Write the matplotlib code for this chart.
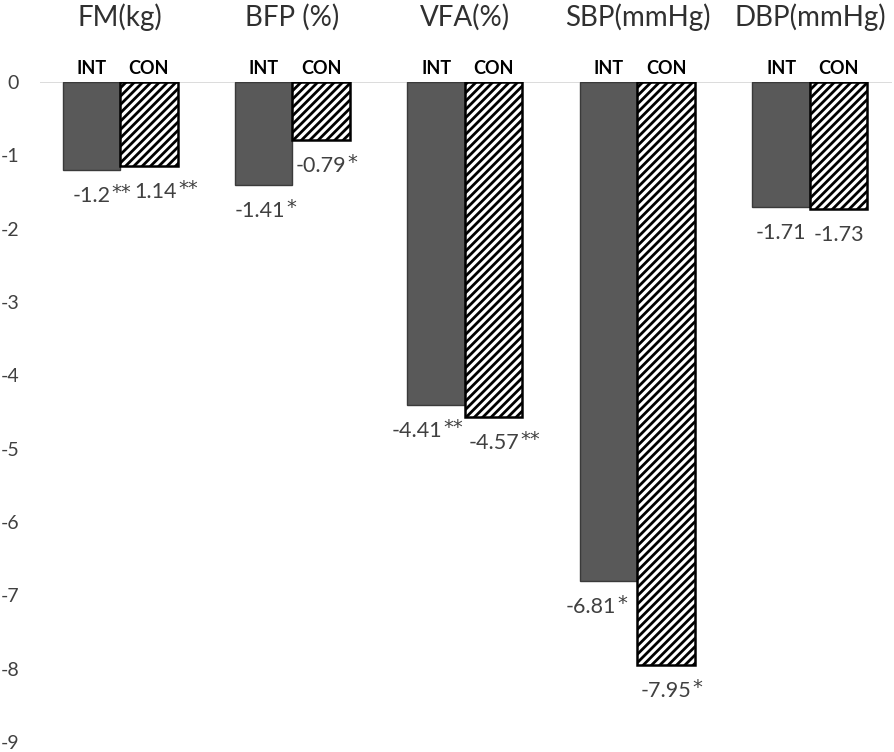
import matplotlib
matplotlib.use("Agg")
import matplotlib.pyplot as plt
import numpy as np

categories = ["FM(kg)", "BFP (%)", "VFA(%)", "SBP(mmHg)", "DBP(mmHg)"]
int_values = [-1.2, -1.41, -4.41, -6.81, -1.71]
con_values = [-1.14, -0.79, -4.57, -7.95, -1.73]
int_labels = ["-1.2", "-1.41", "-4.41", "-6.81", "-1.71"]
con_labels = ["1.14", "-0.79", "-4.57", "-7.95", "-1.73"]
int_stars = ["**", "*", "**", "*", ""]
con_stars = ["**", "*", "**", "*", ""]
yticks = [0, -1, -2, -3, -4, -5, -6, -7, -8, -9]

# horizontal nudges (pixels) of the value labels, as placed in the original
int_dx = [0, -4, -19, -18, 0]
con_dx = [7, 0, 0, 0, 0]

plt.rcParams['font.family'] = ['Lato', 'DejaVu Sans']
plt.rcParams['hatch.linewidth'] = 2.0

fig = plt.figure(figsize=(8.94, 7.52), dpi=100)
ax = fig.add_axes([40/894, 10/752, (892-40)/894, (742-82)/752])

x = np.arange(len(categories))
w = 1/3
ax.bar(x - w/2, int_values, w, color="#595959", edgecolor="#3a3a3a", linewidth=1.0)
ax.bar(x + w/2, con_values, w, color="white", edgecolor="black", linewidth=1.8, hatch="////")

ax.set_xlim(-0.464, 4.476)
ax.set_ylim(-9, 0)
ax.axhline(0, color="#d9d9d9", linewidth=1.3, zorder=0.5)
for s in ax.spines.values():
    s.set_visible(False)
ax.set_xticks([])
ax.set_yticks(yticks)
ax.set_yticklabels([str(t) for t in yticks], fontsize=14, color="#404040")
ax.tick_params(axis='y', length=0, pad=15)

trans_top = matplotlib.transforms.blended_transform_factory(ax.transData, fig.transFigure)
for i, c in enumerate(categories):
    ax.text(x[i], 1 - 17/752, c, transform=trans_top, ha="center", va="center",
            fontsize=20, color="#303030")
    ax.text(x[i] - w/2, 1 - 69/752, "INT", transform=trans_top, ha="center", va="center",
            fontsize=13, fontweight="bold", color="black")
    ax.text(x[i] + w/2, 1 - 69/752, "CON", transform=trans_top, ha="center", va="center",
            fontsize=13, fontweight="bold", color="black")

def value_label(xc, val, txt, stars, dx):
    t = ax.annotate(txt, xy=(xc, val), xytext=(dx, -32), textcoords="offset pixels",
                    ha="center", va="baseline", fontsize=15.5, color="#404040")
    if stars:
        ax.annotate(stars, xy=(1, val), xycoords=(t, "data"), xytext=(1, -28),
                    textcoords="offset pixels", ha="left", va="baseline",
                    fontsize=14, color="#404040", family="DejaVu Sans")

for i in range(len(categories)):
    value_label(x[i] - w/2, int_values[i], int_labels[i], int_stars[i], int_dx[i])
    value_label(x[i] + w/2, con_values[i], con_labels[i], con_stars[i], con_dx[i])

fig.savefig("out.png", dpi=100)
